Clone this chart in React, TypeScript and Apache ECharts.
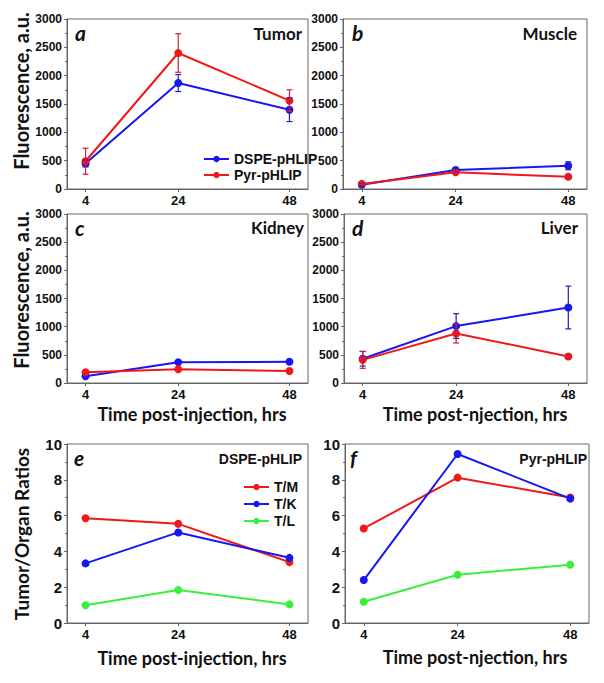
import React, { useEffect, useRef } from 'react';
import * as echarts from 'echarts';

const hours = [4, 24, 48];
const xTickValues = [4, 24, 48];

const tumorDSPE = [450, 1870, 1400];
const tumorDSPEErr = [60, 150, 210];
const tumorPyr = [490, 2400, 1560];
const tumorPyrErr = [230, 340, 190];

const muscleDSPE = [75, 335, 410];
const muscleDSPEErr = [30, 30, 70];
const musclePyr = [90, 295, 215];
const musclePyrErr = [20, 20, 20];

const kidneyDSPE = [120, 367, 378];
const kidneyDSPEErr = [0, 0, 0];
const kidneyPyr = [192, 245, 213];
const kidneyPyrErr = [0, 0, 0];

const liverDSPE = [430, 1010, 1340];
const liverDSPEErr = [130, 220, 380];
const liverPyr = [410, 880, 470];
const liverPyrErr = [150, 170, 30];

const dspeTM = [5.85, 5.54, 3.4];
const dspeTK = [3.33, 5.06, 3.64];
const dspeTL = [0.99, 1.84, 1.04];
const pyrTM = [5.28, 8.12, 7.01];
const pyrTK = [2.4, 9.44, 6.95];
const pyrTL = [1.19, 2.7, 3.25];

const BLUE = '#1616f2';
const RED = '#f01818';
const GREEN = '#3cee3c';
const BLUE_ERR = '#2020b8';
const RED_ERR = '#c8203c';
const FRAME = '#666';
const TICK_FONT = 'Liberation Sans';
const TITLE_FONT = 'Lato';

const grids = [
  { left: 67, top: 19, width: 241, height: 170 },
  { left: 343, top: 19, width: 244, height: 170 },
  { left: 67, top: 214, width: 241, height: 169 },
  { left: 344, top: 214, width: 243, height: 169 },
  { left: 67, top: 444, width: 241, height: 179 },
  { left: 345, top: 444, width: 244, height: 179 },
];

function lineSeries(name: string, color: string, vals: number[], idx: number) {
  return {
    type: 'line',
    name,
    xAxisIndex: idx,
    yAxisIndex: idx,
    data: hours.map((h, i) => [h, vals[i]]),
    symbol: 'circle',
    symbolSize: 8,
    lineStyle: { color, width: 2 },
    itemStyle: { color },
    z: 2,
  };
}

function errSeries(color: string, vals: number[], errs: number[], idx: number) {
  return {
    type: 'custom',
    xAxisIndex: idx,
    yAxisIndex: idx,
    silent: true,
    z: 3,
    data: hours.map((h, i) => [h, vals[i] - errs[i], vals[i] + errs[i]]),
    encode: { x: 0, y: [1, 2] },
    renderItem: (params: any, api: any) => {
      const x = api.value(0);
      const lo = api.value(1);
      const hi = api.value(2);
      if (hi - lo <= 0) return null;
      const a = api.coord([x, lo]);
      const b = api.coord([x, hi]);
      const w = 3;
      const style = { stroke: color, lineWidth: 1.2 };
      return {
        type: 'group',
        children: [
          { type: 'line', shape: { x1: a[0], y1: a[1], x2: b[0], y2: b[1] }, style },
          { type: 'line', shape: { x1: a[0] - w, y1: a[1], x2: a[0] + w, y2: a[1] }, style },
          { type: 'line', shape: { x1: b[0] - w, y1: b[1], x2: b[0] + w, y2: b[1] }, style },
        ],
      };
    },
  };
}

function text(t: string, x: number, y: number, opts: any = {}) {
  return {
    type: 'text',
    x,
    y,
    rotation: opts.rotation || 0,
    style: {
      text: t,
      fill: '#111',
      font: opts.font || `bold 17px ${TITLE_FONT}`,
      textAlign: opts.align || 'left',
      textVerticalAlign: 'middle',
      align: opts.align || 'left',
      verticalAlign: 'middle',
    },
  };
}

export default function App() {
  const ref = useRef<HTMLDivElement>(null);
  useEffect(() => {
    if (!ref.current) return;
    const chart = echarts.init(ref.current, undefined, { renderer: 'svg' });

    const xAxes = grids.map((_, i) => ({
      type: 'value',
      gridIndex: i,
      min: 0,
      max: 52,
      splitLine: { show: false },
      axisLine: { show: true, lineStyle: { color: FRAME, width: 1 } },
      axisTick: { show: true, customValues: xTickValues, length: 3, lineStyle: { color: FRAME } },
      axisLabel: {
        customValues: xTickValues,
        fontFamily: TICK_FONT,
        fontWeight: 'bold',
        fontSize: 13,
        color: '#111',
        margin: 5,
      },
    }));

    const yAxes = grids.map((_, i) => {
      const ratio = i >= 4;
      return {
        type: 'value',
        gridIndex: i,
        min: 0,
        max: ratio ? 10 : 3000,
        interval: ratio ? 2 : 500,
        splitLine: { show: false },
        axisLine: { show: true, lineStyle: { color: FRAME, width: 1 } },
        axisTick: { show: true, length: 3, lineStyle: { color: FRAME } },
        minorTick: { show: true, splitNumber: 2, length: 2, lineStyle: { color: FRAME } },
        axisLabel: {
          fontFamily: TICK_FONT,
          fontWeight: 'bold',
          fontSize: ratio ? 15 : 12,
          color: '#111',
          margin: 5,
          formatter: (v: number) => String(v),
        },
      };
    });

    const series: any[] = [
      lineSeries('DSPE-pHLIP', BLUE, tumorDSPE, 0),
      lineSeries('Pyr-pHLIP', RED, tumorPyr, 0),
      errSeries(BLUE_ERR, tumorDSPE, tumorDSPEErr, 0),
      errSeries(RED_ERR, tumorPyr, tumorPyrErr, 0),
      lineSeries('DSPE-pHLIP', BLUE, muscleDSPE, 1),
      lineSeries('Pyr-pHLIP', RED, musclePyr, 1),
      errSeries(BLUE_ERR, muscleDSPE, muscleDSPEErr, 1),
      errSeries(RED_ERR, musclePyr, musclePyrErr, 1),
      lineSeries('DSPE-pHLIP', BLUE, kidneyDSPE, 2),
      lineSeries('Pyr-pHLIP', RED, kidneyPyr, 2),
      errSeries(BLUE_ERR, kidneyDSPE, kidneyDSPEErr, 2),
      errSeries(RED_ERR, kidneyPyr, kidneyPyrErr, 2),
      lineSeries('DSPE-pHLIP', BLUE, liverDSPE, 3),
      lineSeries('Pyr-pHLIP', RED, liverPyr, 3),
      errSeries(BLUE_ERR, liverDSPE, liverDSPEErr, 3),
      errSeries(RED_ERR, liverPyr, liverPyrErr, 3),
      lineSeries('T/M', RED, dspeTM, 4),
      lineSeries('T/K', BLUE, dspeTK, 4),
      lineSeries('T/L', GREEN, dspeTL, 4),
      lineSeries('T/M', RED, pyrTM, 5),
      lineSeries('T/K', BLUE, pyrTK, 5),
      lineSeries('T/L', GREEN, pyrTL, 5),
    ];

    const legendText = { fontFamily: TICK_FONT, fontWeight: 'bold', fontSize: 14, color: '#111' };

    chart.setOption({
      animation: false,
      backgroundColor: '#fff',
      grid: grids.map((g) => ({ ...g, show: true, borderColor: FRAME, borderWidth: 1, backgroundColor: 'transparent' })),
      xAxis: xAxes,
      yAxis: yAxes,
      legend: [
        {
          data: ['DSPE-pHLIP', 'Pyr-pHLIP'],
          orient: 'vertical',
          left: 198,
          top: 147,
          itemWidth: 25,
          itemHeight: 8,
          itemGap: 2,
          textStyle: legendText,
          selectedMode: false,
        },
        {
          data: ['T/M', 'T/K', 'T/L'],
          orient: 'vertical',
          left: 238,
          top: 475,
          itemWidth: 25,
          itemHeight: 8,
          itemGap: 3,
          textStyle: legendText,
          selectedMode: false,
        },
      ],
      graphic: [
        text('Fluorescence, a.u.', 21, 91, { rotation: Math.PI / 2, align: 'center', font: `bold 20px ${TITLE_FONT}` }),
        text('Fluorescence, a.u.', 21, 290, { rotation: Math.PI / 2, align: 'center', font: `bold 20px ${TITLE_FONT}` }),
        text('Tumor/Organ Ratios', 21, 534, { rotation: Math.PI / 2, align: 'center', font: `bold 19px ${TITLE_FONT}` }),
        text('Time post-injection, hrs', 192, 414, { align: 'center', font: `bold 18px ${TITLE_FONT}` }),
        text('Time post-njection, hrs', 475, 414, { align: 'center', font: `bold 18px ${TITLE_FONT}` }),
        text('Time post-injection, hrs', 192, 658, { align: 'center', font: `bold 18px ${TITLE_FONT}` }),
        text('Time post-njection, hrs', 475, 657, { align: 'center', font: `bold 18px ${TITLE_FONT}` }),
        text('a', 75, 32, { font: `italic bold 21px ${TITLE_FONT}` }),
        text('b', 352, 32, { font: `italic bold 21px ${TITLE_FONT}` }),
        text('c', 75, 227, { font: `italic bold 21px ${TITLE_FONT}` }),
        text('d', 352, 227, { font: `italic bold 21px ${TITLE_FONT}` }),
        text('e', 74, 457, { font: `italic bold 21px ${TITLE_FONT}` }),
        text('f', 350, 457, { font: `italic bold 21px ${TITLE_FONT}` }),
        text('Tumor', 302, 33, { align: 'right', font: `bold 17px ${TITLE_FONT}` }),
        text('Muscle', 577, 33, { align: 'right', font: `bold 17px ${TITLE_FONT}` }),
        text('Kidney', 304, 227, { align: 'right', font: `bold 17px ${TITLE_FONT}` }),
        text('Liver', 578, 227, { align: 'right', font: `bold 17px ${TITLE_FONT}` }),
        text('DSPE-pHLIP', 302, 459, { align: 'right', font: `bold 14px ${TICK_FONT}` }),
        text('Pyr-pHLIP', 587, 459, { align: 'right', font: `bold 14px ${TICK_FONT}` }),
      ],
      series,
    });
    return () => chart.dispose();
  }, []);
  return <div ref={ref} style={{ position: 'fixed', left: 0, top: 0, width: 604, height: 683 }} />;
}
